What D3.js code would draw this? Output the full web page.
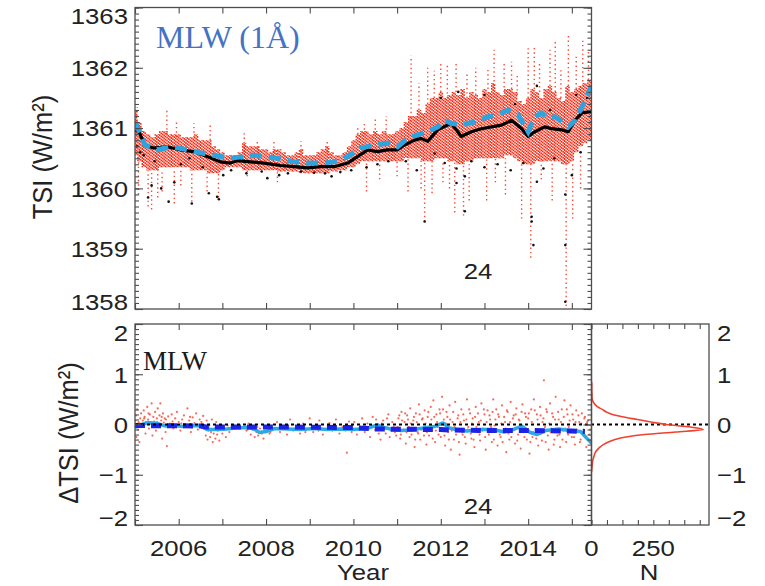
<!DOCTYPE html>
<html><head><meta charset="utf-8">
<script src="https://cdn.jsdelivr.net/npm/d3@7"></script>
<style>html,body{margin:0;padding:0;background:#fff}svg{display:block}</style>
</head><body><svg id="chart" width="765" height="586"></svg>
<script>
// ---------- data ----------
// Upper panel: dense cloud of individual TSI readings, per 0.1-year bin [year, low, high]
const tsiBand = [
  [2005.0,1360.55,1361.3],[2005.1,1360.45,1361.1],[2005.2,1360.35,1360.95],[2005.3,1360.3,1360.9],[2005.4,1360.3,1360.85],
  [2005.5,1360.3,1360.9],[2005.6,1360.35,1360.95],[2005.7,1360.35,1360.95],[2005.8,1360.35,1360.9],[2005.9,1360.35,1360.9],
  [2006.0,1360.35,1360.9],[2006.1,1360.35,1360.85],[2006.2,1360.35,1360.85],[2006.3,1360.3,1360.85],[2006.4,1360.3,1360.9],
  [2006.5,1360.3,1360.8],[2006.6,1360.3,1360.8],[2006.7,1360.25,1360.8],[2006.8,1360.25,1360.7],[2006.9,1360.25,1360.65],
  [2007.0,1360.3,1360.6],[2007.1,1360.35,1360.55],[2007.2,1360.35,1360.55],[2007.3,1360.35,1360.55],[2007.4,1360.35,1360.6],
  [2007.5,1360.3,1360.75],[2007.6,1360.3,1360.7],[2007.7,1360.3,1360.7],[2007.8,1360.3,1360.7],[2007.9,1360.3,1360.65],
  [2008.0,1360.3,1360.65],[2008.1,1360.3,1360.6],[2008.2,1360.3,1360.65],[2008.3,1360.28,1360.65],[2008.4,1360.28,1360.6],
  [2008.5,1360.28,1360.55],[2008.6,1360.28,1360.55],[2008.7,1360.28,1360.6],[2008.8,1360.25,1360.65],[2008.9,1360.25,1360.55],
  [2009.0,1360.25,1360.55],[2009.1,1360.25,1360.55],[2009.2,1360.25,1360.6],[2009.3,1360.25,1360.65],[2009.4,1360.25,1360.7],
  [2009.5,1360.28,1360.6],[2009.6,1360.28,1360.55],[2009.7,1360.3,1360.55],[2009.8,1360.3,1360.6],[2009.9,1360.35,1360.7],
  [2010.0,1360.35,1360.8],[2010.1,1360.4,1360.9],[2010.2,1360.45,1360.95],[2010.3,1360.45,1360.95],[2010.4,1360.45,1360.9],
  [2010.5,1360.45,1360.95],[2010.6,1360.45,1360.9],[2010.7,1360.45,1360.95],[2010.8,1360.45,1360.9],[2010.9,1360.45,1360.9],
  [2011.0,1360.45,1360.95],[2011.1,1360.45,1361.0],[2011.2,1360.5,1361.1],[2011.3,1360.5,1361.2],[2011.4,1360.5,1361.2],
  [2011.5,1360.5,1361.3],[2011.6,1360.45,1361.25],[2011.7,1360.45,1361.4],[2011.8,1360.45,1361.5],[2011.9,1360.5,1361.5],
  [2012.0,1360.5,1361.6],[2012.1,1360.5,1361.5],[2012.2,1360.45,1361.55],[2012.3,1360.45,1361.6],[2012.4,1360.4,1361.55],
  [2012.5,1360.4,1361.65],[2012.6,1360.45,1361.5],[2012.7,1360.45,1361.6],[2012.8,1360.5,1361.55],[2012.9,1360.5,1361.5],
  [2013.0,1360.5,1361.65],[2013.1,1360.5,1361.6],[2013.2,1360.5,1361.75],[2013.3,1360.5,1361.6],[2013.4,1360.5,1361.55],
  [2013.5,1360.55,1361.65],[2013.6,1360.55,1361.65],[2013.7,1360.5,1361.6],[2013.8,1360.45,1361.45],[2013.9,1360.4,1361.4],
  [2014.0,1360.4,1361.5],[2014.1,1360.4,1361.65],[2014.2,1360.45,1361.6],[2014.3,1360.45,1361.5],[2014.4,1360.45,1361.65],
  [2014.5,1360.45,1361.7],[2014.6,1360.45,1361.6],[2014.7,1360.45,1361.5],[2014.8,1360.4,1361.45],[2014.9,1360.4,1361.7],
  [2015.0,1360.45,1361.6],[2015.1,1360.6,1361.65],[2015.2,1360.7,1361.7],[2015.3,1360.75,1361.75],[2015.4,1360.8,1361.8]
];

// Isolated excursions of the readings beyond the dense cloud [year, low, high]
const tsiStreaks = [
  [2005.05,1360.9,1361.35],[2005.08,1359.9,1360.5],[2005.3,1359.7,1360.3],[2005.38,1359.65,1360.3],[2005.52,1359.85,1360.3],
  [2005.62,1359.95,1360.3],[2005.73,1360.9,1361.33],[2005.9,1359.75,1360.3],[2005.95,1360.85,1361.13],[2006.05,1360.05,1360.3],
  [2006.3,1359.78,1360.3],[2006.35,1360.85,1361.08],[2006.65,1359.95,1360.25],[2006.72,1360.8,1361.05],[2006.91,1359.85,1360.25],
  [2007.5,1360.6,1360.93],[2007.57,1360.2,1360.3],[2007.8,1360.6,1360.8],[2008.18,1360.6,1360.78],[2008.26,1360.1,1360.3],
  [2008.8,1360.55,1360.78],[2009.4,1360.6,1360.8],[2010.1,1360.9,1361.02],[2010.25,1360.9,1361.1],[2010.3,1359.95,1360.45],
  [2010.5,1360.9,1361.15],[2010.6,1360.15,1360.45],[2010.75,1360.9,1361.2],[2011.0,1360.2,1360.45],[2011.25,1359.95,1360.5],
  [2011.32,1361.1,1362.2],[2011.5,1361.3,1361.75],[2011.55,1360.0,1360.5],[2011.63,1359.45,1360.45],[2011.7,1361.4,1362.0],
  [2011.8,1359.92,1360.45],[2011.85,1361.5,1361.95],[2012.0,1361.6,1362.1],[2012.05,1360.1,1360.45],[2012.15,1361.5,1362.05],
  [2012.2,1360.0,1360.45],[2012.32,1359.6,1360.45],[2012.35,1361.6,1362.1],[2012.52,1359.55,1360.4],[2012.6,1361.5,1361.9],
  [2012.65,1359.8,1360.4],[2012.8,1361.55,1362.0],[2013.05,1359.8,1360.5],[2013.08,1361.65,1362.0],[2013.22,1361.7,1362.3],
  [2013.25,1360.1,1360.5],[2013.45,1361.6,1362.1],[2013.48,1359.9,1360.5],[2013.62,1361.65,1362.1],[2013.75,1361.55,1361.9],
  [2013.85,1359.5,1360.45],[2014.0,1361.5,1362.37],[2014.06,1358.85,1360.4],[2014.14,1361.65,1362.35],[2014.26,1361.6,1362.1],
  [2014.3,1360.15,1360.45],[2014.5,1361.7,1362.3],[2014.55,1359.8,1360.45],[2014.62,1361.6,1362.47],[2014.75,1361.5,1362.0],
  [2014.87,1358.05,1360.4],[2014.92,1361.7,1362.55],[2015.02,1359.5,1360.45],[2015.1,1361.65,1362.2],[2015.2,1360.0,1360.6],
  [2015.25,1361.7,1362.45],[2015.38,1361.8,1362.3]
];

// Readings of the second series, shown in black [year, TSI]
const tsiBlackDots = [
  [2005.02,1360.95],[2005.05,1360.7],[2005.12,1360.6],[2005.2,1360.55],[2005.3,1359.85],[2005.38,1360.05],[2005.45,1360.45],
  [2005.6,1360.0],[2005.77,1359.78],[2005.9,1360.1],[2006.05,1360.4],[2006.25,1360.5],[2006.3,1359.75],[2006.55,1360.35],
  [2006.69,1359.92],[2006.88,1359.86],[2006.92,1359.82],[2007.02,1360.22],[2007.2,1360.3],[2007.55,1360.25],[2007.9,1360.28],
  [2008.03,1360.17],[2008.3,1360.22],[2008.5,1360.25],[2008.8,1360.28],[2009.1,1360.26],[2009.35,1360.25],[2009.5,1360.2],
  [2009.7,1360.27],[2009.95,1360.3],[2010.3,1360.35],[2010.55,1360.4],[2010.8,1360.45],[2011.2,1360.45],[2011.45,1360.3],
  [2011.63,1359.45],[2011.86,1360.58],[2012.0,1361.5],[2012.09,1360.42],[2012.36,1360.33],[2012.36,1360.09],[2012.4,1361.6],
  [2012.55,1360.2],[2012.55,1359.62],[2012.7,1360.45],[2013.0,1360.35],[2013.0,1361.55],[2013.3,1360.4],[2013.6,1360.3],
  [2013.7,1361.4],[2013.89,1360.42],[2014.08,1359.53],[2014.08,1359.45],[2014.12,1359.06],[2014.2,1360.11],[2014.2,1361.7],
  [2014.35,1360.33],[2014.5,1361.3],[2014.6,1360.5],[2014.85,1359.9],[2014.85,1359.06],[2014.85,1358.12],[2015.0,1360.22],
  [2015.1,1361.55],[2015.2,1360.6],[2015.35,1361.5]
];

// Smoothed series in the upper panel [year, TSI]
const tsiBlackLine = [
  [2005.0,1361.11],[2005.12,1360.89],[2005.23,1360.72],[2005.42,1360.67],[2005.73,1360.69],[2006.03,1360.64],[2006.34,1360.61],
  [2006.65,1360.53],[2006.95,1360.44],[2007.18,1360.42],[2007.34,1360.46],[2007.64,1360.44],[2007.95,1360.42],[2008.33,1360.38],
  [2008.64,1360.36],[2008.95,1360.34],[2009.25,1360.36],[2009.56,1360.36],[2009.87,1360.42],[2010.1,1360.53],[2010.33,1360.64],
  [2010.55,1360.61],[2010.78,1360.64],[2011.01,1360.64],[2011.17,1360.72],[2011.4,1360.8],[2011.55,1360.83],[2011.7,1360.78],
  [2011.82,1360.88],[2011.93,1360.97],[2012.01,1361.0],[2012.24,1361.08],[2012.47,1360.86],[2012.7,1360.94],[2012.93,1360.99],
  [2013.16,1361.02],[2013.39,1361.05],[2013.62,1361.13],[2013.85,1360.99],[2014.0,1360.86],[2014.15,1360.94],[2014.38,1361.02],
  [2014.54,1360.99],[2014.77,1360.97],[2014.92,1360.94],[2015.07,1361.13],[2015.23,1361.25],[2015.38,1361.27],[2015.45,1361.27]
];
const tsiCyanLine = [
  [2005.0,1361.11],[2005.23,1360.72],[2005.5,1360.64],[2005.85,1360.69],[2006.19,1360.64],[2006.5,1360.59],[2006.8,1360.55],
  [2007.18,1360.5],[2007.72,1360.55],[2008.26,1360.5],[2008.64,1360.44],[2008.95,1360.42],[2009.25,1360.42],[2009.56,1360.44],
  [2009.87,1360.53],[2010.17,1360.67],[2010.48,1360.72],[2010.78,1360.75],[2011.01,1360.69],[2011.24,1360.83],[2011.55,1360.91],
  [2011.78,1360.97],[2011.93,1361.02],[2012.09,1361.13],[2012.24,1361.08],[2012.47,1361.05],[2012.62,1361.08],[2012.85,1361.11],
  [2013.08,1361.19],[2013.31,1361.22],[2013.54,1361.3],[2013.77,1361.22],[2014.0,1360.94],[2014.15,1361.19],[2014.31,1361.25],
  [2014.46,1361.16],[2014.61,1361.19],[2014.77,1361.11],[2014.92,1361.02],[2015.07,1361.13],[2015.23,1361.35],[2015.38,1361.58],
  [2015.45,1361.71]
];

// Lower panel: individual differences [year, ΔTSI]
const dtsiDots = [
  [2005.02,0.18],[2005.03,-0.25],[2005.05,0.3],[2005.07,-0.1],[2005.08,0.05],[2005.1,-0.35],[2005.12,0.12],[2005.14,0.22],
  [2005.16,-0.05],[2005.18,0.08],[2005.2,0.28],[2005.22,0.15],[2005.24,-0.18],[2005.26,0.05],[2005.28,0.35],[2005.3,0.1],
  [2005.32,-0.08],[2005.34,0.2],[2005.36,0.02],[2005.38,0.42],[2005.4,-0.22],[2005.42,0.15],[2005.44,0.06],[2005.46,0.25],
  [2005.48,-0.12],[2005.5,0.12],[2005.52,0.32],[2005.54,-0.02],[2005.56,0.18],[2005.58,0.42],[2005.6,0.08],[2005.62,-0.28],
  [2005.64,0.22],[2005.66,0.04],[2005.68,0.12],[2005.7,-0.15],[2005.73,-0.43],[2005.76,0.16],[2005.8,0.02],[2005.84,0.2],
  [2005.88,-0.08],[2005.92,0.12],[2005.96,0.25],[2006.0,0.05],[2006.04,-0.12],[2006.08,0.1],[2006.12,0.18],[2006.16,-0.05],
  [2006.2,0.32],[2006.24,0.08],[2006.28,-0.15],[2006.32,0.14],[2006.36,0.03],[2006.4,0.22],[2006.44,-0.1],[2006.48,0.1],
  [2006.52,0.05],[2006.56,0.17],[2006.6,-0.06],[2006.62,-0.22],[2006.64,0.08],[2006.66,-0.3],[2006.68,-0.12],[2006.7,-0.02],
  [2006.72,-0.25],[2006.74,-0.15],[2006.76,0.1],[2006.78,-0.35],[2006.8,-0.18],[2006.82,-0.08],[2006.84,-0.28],[2006.86,0.05],
  [2006.88,-0.2],[2006.9,-0.12],[2006.93,-0.32],[2006.96,-0.05],[2007.0,-0.18],[2007.04,-0.1],[2007.08,-0.25],[2007.12,-0.02],
  [2007.16,-0.15],[2007.5,-0.05],[2007.55,-0.12],[2007.6,0.02],[2007.65,-0.2],[2007.7,-0.1],[2007.74,-0.25],[2007.78,-0.15],
  [2007.82,-0.22],[2007.86,-0.08],[2007.9,-0.18],[2007.94,-0.28],[2007.98,-0.12],[2008.02,-0.05],[2008.08,-0.18],[2008.14,-0.1],
  [2008.25,0.05],[2008.32,-0.15],[2008.4,-0.08],[2008.48,-0.2],[2008.55,0.1],[2008.62,-0.12],[2008.7,-0.05],[2008.78,-0.18],
  [2008.85,0.02],[2008.92,-0.1],[2009.0,0.12],[2009.08,-0.15],[2009.15,-0.05],[2009.22,0.08],[2009.3,-0.2],[2009.38,-0.1],
  [2009.45,0.03],[2009.52,-0.12],[2009.6,0.1],[2009.68,-0.18],[2009.75,-0.05],[2009.82,-0.12],[2009.85,-0.56],[2009.9,0.06],
  [2009.96,-0.15],[2010.02,0.05],[2010.08,-0.2],[2010.14,-0.08],[2010.2,0.12],[2010.26,-0.15],[2010.32,0.02],[2010.38,-0.25],
  [2010.44,0.15],[2010.5,-0.1],[2010.56,-0.02],[2010.62,-0.3],[2010.68,0.08],[2010.74,-0.18],[2010.8,0.2],[2010.86,-0.12],
  [2010.92,-0.05],[2010.98,-0.22],[2011.03,0.12],[2011.07,-0.28],[2011.1,0.25],[2011.13,-0.12],[2011.17,0.05],[2011.2,-0.38],
  [2011.23,0.18],[2011.27,-0.05],[2011.3,0.32],[2011.33,-0.2],[2011.37,0.08],[2011.4,-0.45],[2011.43,0.22],[2011.47,-0.15],
  [2011.5,0.4],[2011.53,-0.3],[2011.57,0.1],[2011.6,-0.08],[2011.63,0.28],[2011.67,-0.4],[2011.7,0.15],[2011.73,-0.22],
  [2011.77,0.35],[2011.8,-0.12],[2011.83,0.48],[2011.87,-0.35],[2011.9,0.2],[2011.93,-0.05],[2011.97,0.3],[2012.0,-0.25],
  [2012.03,0.55],[2012.07,0.1],[2012.1,-0.42],[2012.13,0.25],[2012.17,-0.15],[2012.2,0.38],[2012.23,-0.5],[2012.27,0.05],
  [2012.3,-0.3],[2012.33,0.45],[2012.37,-0.1],[2012.4,0.18],[2012.43,-0.6],[2012.47,0.3],[2012.5,-0.2],[2012.53,0.08],
  [2012.57,-0.38],[2012.6,0.5],[2012.63,-0.05],[2012.67,0.22],[2012.7,-0.28],[2012.73,0.12],[2012.77,-0.45],[2012.8,0.35],
  [2012.83,-0.15],[2012.87,0.05],[2012.9,-0.32],[2012.93,0.42],[2012.97,-0.08],[2013.0,0.2],[2013.03,-0.5],[2013.07,0.28],
  [2013.1,-0.2],[2013.13,0.1],[2013.17,-0.35],[2013.2,0.5],[2013.23,-0.02],[2013.27,0.3],[2013.3,-0.42],[2013.33,0.15],
  [2013.37,-0.25],[2013.4,0.38],[2013.43,-0.12],[2013.47,0.05],[2013.5,-0.55],[2013.53,0.25],[2013.57,-0.3],[2013.6,0.45],
  [2013.63,-0.1],[2013.67,0.18],[2013.7,-0.38],[2013.73,0.32],[2013.77,-0.2],[2013.8,0.08],[2013.83,-0.48],[2013.87,0.4],
  [2013.9,-0.15],[2013.93,0.22],[2013.97,-0.3],[2014.0,0.12],[2014.03,-0.58],[2014.07,0.3],[2014.1,-0.25],[2014.13,0.5],
  [2014.17,-0.1],[2014.2,0.2],[2014.23,-0.42],[2014.27,0.35],[2014.3,-0.18],[2014.33,0.05],[2014.36,0.88],[2014.4,-0.35],
  [2014.43,0.25],[2014.47,-0.5],[2014.5,0.42],[2014.53,-0.08],[2014.57,0.15],[2014.6,-0.3],[2014.63,0.55],[2014.67,-0.22],
  [2014.7,0.1],[2014.73,-0.45],[2014.77,0.3],[2014.8,-0.12],[2014.83,0.48],[2014.87,-0.35],[2014.9,0.2],[2014.93,-0.05],
  [2014.97,0.38],[2015.0,-0.25],[2015.03,0.1],[2015.07,-0.4],[2015.1,0.28],[2015.13,-0.15],[2015.17,0.05],[2015.2,-0.3],
  [2015.23,0.22],[2015.27,-0.1],[2015.3,0.15],[2015.33,-0.45],[2015.37,0.08],[2015.4,-0.2],
  // readings close to the mean
  [2005.01,0.08],[2005.11,0.02],[2005.21,0.12],[2005.31,0.22],[2005.41,0.0],[2005.51,0.05],[2005.61,0.15],[2005.71,0.1],
  [2005.86,0.06],[2006.06,0.02],[2006.26,0.15],[2006.46,0.0],[2006.7,-0.08],[2006.87,-0.1],[2007.03,-0.05],[2007.58,-0.1],
  [2007.8,-0.05],[2008.1,-0.15],[2008.45,-0.05],[2008.9,-0.15],[2009.2,-0.12],[2009.55,-0.02],[2009.9,-0.1],
  [2010.52,0.1],[2010.58,-0.18],[2010.65,0.02],[2010.71,-0.08],[2010.77,0.12],[2010.83,-0.25],[2010.89,0.05],[2010.95,-0.15],
  [2011.01,-0.05],[2011.05,0.18],[2011.085,-0.2],[2011.115,0.08],[2011.15,-0.1],[2011.185,0.22],[2011.215,-0.15],[2011.25,0.1],
  [2011.285,-0.25],[2011.315,0.02],[2011.35,-0.12],[2011.385,0.15],[2011.415,-0.3],[2011.45,0.05],[2011.485,-0.18],[2011.515,0.2],
  [2011.55,-0.1],[2011.585,0.12],[2011.615,-0.22],[2011.65,0.02],[2011.685,-0.15],[2011.715,0.25],[2011.75,-0.05],[2011.785,0.1],
  [2011.815,-0.28],[2011.85,0.15],[2011.885,-0.12],[2011.915,0.05],[2011.95,-0.2],[2011.985,0.22],
  [2012.015,-0.1],[2012.05,0.3],[2012.085,-0.22],[2012.115,0.02],[2012.15,0.15],[2012.185,-0.3],[2012.215,0.1],[2012.25,-0.12],
  [2012.285,0.25],[2012.315,-0.05],[2012.35,-0.2],[2012.385,0.12],[2012.415,-0.35],[2012.45,0.05],[2012.485,-0.15],[2012.515,0.2],
  [2012.55,-0.25],[2012.585,0.1],[2012.615,-0.1],[2012.65,0.3],[2012.685,-0.18],[2012.715,0.02],[2012.75,-0.3],[2012.785,0.15],
  [2012.815,-0.05],[2012.85,0.22],[2012.885,-0.2],[2012.915,0.08],[2012.95,-0.12],[2012.985,0.3],
  [2013.015,-0.25],[2013.05,0.05],[2013.085,-0.15],[2013.115,0.18],[2013.15,-0.05],[2013.185,0.25],[2013.215,-0.3],[2013.25,0.1],
  [2013.285,-0.12],[2013.315,0.2],[2013.35,-0.2],[2013.385,0.02],[2013.415,-0.35],[2013.45,0.15],[2013.485,-0.08],[2013.515,0.28],
  [2013.55,-0.18],[2013.585,0.05],[2013.615,-0.25],[2013.65,0.12],[2013.685,-0.1],[2013.715,0.2],[2013.75,-0.32],[2013.785,0.1],
  [2013.815,-0.15],[2013.85,0.25],[2013.885,-0.05],[2013.915,-0.25],[2013.95,0.15],[2013.985,-0.12],
  [2014.015,0.22],[2014.05,-0.35],[2014.085,0.05],[2014.115,-0.15],[2014.15,0.28],[2014.185,-0.28],[2014.215,0.1],[2014.25,-0.1],
  [2014.285,0.18],[2014.315,-0.32],[2014.35,0.12],[2014.385,-0.05],[2014.415,0.3],[2014.45,-0.22],[2014.485,0.02],[2014.515,-0.15],
  [2014.55,0.22],[2014.585,-0.4],[2014.615,0.1],[2014.65,-0.1],[2014.685,0.25],[2014.715,-0.2],[2014.75,0.05],[2014.785,-0.3],
  [2014.815,0.15],[2014.85,-0.08],[2014.885,0.3],[2014.915,-0.2],[2014.95,0.08],[2014.985,-0.12],
  [2015.015,0.2],[2015.05,-0.25],[2015.085,0.05],[2015.115,-0.1],[2015.15,0.18],[2015.185,-0.35],[2015.215,0.02],[2015.25,-0.15],
  [2015.285,0.12],[2015.315,-0.25],[2015.35,0.05],[2015.385,-0.3],[2015.42,-0.1]
];

// Smoothed differences [year, ΔTSI]
const dtsiBlueLine = [
  [2005.0,-0.02],[2006.5,-0.03],[2006.62,-0.05],[2008.5,-0.05],[2010.0,-0.06],[2010.5,-0.09],[2012.0,-0.1],
  [2012.2,-0.11],[2013.0,-0.12],[2014.0,-0.12],[2015.0,-0.13],[2015.3,-0.14]
];
const dtsiCyanLine = [
  [2005.0,-0.06],[2005.15,0.0],[2005.3,0.04],[2005.5,0.02],[2005.7,-0.03],[2005.9,-0.02],[2006.1,-0.04],[2006.3,-0.02],
  [2006.5,-0.03],[2006.65,-0.1],[2006.9,-0.1],[2007.1,-0.09],[2007.3,-0.07],[2007.6,-0.06],[2007.75,-0.1],[2007.85,-0.16],
  [2008.0,-0.14],[2008.2,-0.08],[2008.5,-0.09],[2008.8,-0.1],[2009.1,-0.08],[2009.4,-0.1],[2009.7,-0.09],[2010.0,-0.1],
  [2010.3,-0.08],[2010.55,-0.01],[2010.7,-0.06],[2010.9,-0.1],[2011.1,-0.12],[2011.3,-0.11],[2011.6,-0.07],[2011.85,-0.04],
  [2012.05,0.03],[2012.2,-0.07],[2012.4,-0.11],[2012.6,-0.13],[2012.9,-0.1],[2013.2,-0.1],[2013.45,-0.15],[2013.65,-0.1],
  [2013.85,-0.03],[2014.05,-0.16],[2014.2,-0.2],[2014.4,-0.12],[2014.7,-0.09],[2014.95,-0.12],[2015.2,-0.14],[2015.35,-0.28],
  [2015.45,-0.37]
];

// Distribution of the differences
const histDelta = [-0.95,-0.9,-0.85,-0.8,-0.75,-0.7,-0.65,-0.6,-0.55,-0.5,-0.45,-0.4,-0.35,-0.3,-0.25,-0.2,-0.15,-0.1,
  -0.05,0,0.05,0.1,0.15,0.2,0.25,0.3,0.35,0.4,0.45,0.5,0.55,0.6,0.65,0.7,0.75,0.8,0.85];
const histCount = [0,1,2,3,4,6,9,12,16,24,34,48,68,95,140,215,340,452,400,302,240,185,130,85,60,44,25,14,7,3,2,2,1,1,1,1,0];

// Axis ticks and labels
const yearTicks = [2005,2006,2007,2008,2009,2010,2011,2012,2013,2014,2015];
const yearLabels = [2006,2008,2010,2012,2014];
const tsiLabels = [1358,1359,1360,1361,1362,1363];
const dtsiLabels = [-2,-1,0,1,2];
const countTicks = [0,62.5,125,187.5,250,312.5,375,437.5];
const countLabels = [0,250];

// ---------- layout ----------
const svg = d3.select('#chart');
const x = d3.scaleLinear().domain([2005, 2015.45]).range([135, 591.5]);
const yTop = d3.scaleLinear().domain([1358, 1363]).range([309, 7.5]);
const yBot = d3.scaleLinear().domain([-2, 2]).range([525, 324]);
const xHist = d3.scaleLinear().domain([0, 475]).range([591.5, 709]);

const FRAME = '#4d4d4d';
const RED = '#f52a14';
const SANS = "'Liberation Sans', Arial, sans-serif";
const SERIF = "'Liberation Serif', 'Times New Roman', serif";

const defs = svg.append('defs');
function clip(id, x0, y0, x1, y1) {
  defs.append('clipPath').attr('id', id).append('rect')
    .attr('x', x0).attr('y', y0).attr('width', x1 - x0).attr('height', y1 - y0);
}
clip('clipTop', 135, 7.5, 591.5, 309);
clip('clipBot', 135, 324, 591.5, 525);
clip('clipHist', 591.5, 324, 709, 525);

// ---------- upper panel ----------
const gTop = svg.append('g').attr('clip-path', 'url(#clipTop)');
// each bin is rendered as three dotted columns so the readings read as a speckled cloud
const cols = [-1.45, 0, 1.45];
gTop.append('g').selectAll('line')
  .data(tsiBand.flatMap((d, i) => cols.map((o, j) => ({ d, o, k: i * 3 + j }))))
  .join('line')
  .attr('x1', p => x(p.d[0]) + p.o).attr('x2', p => x(p.d[0]) + p.o)
  .attr('y1', p => yTop(p.d[1])).attr('y2', p => yTop(p.d[2]))
  .attr('stroke', RED).attr('stroke-width', 1.5)
  .attr('stroke-dasharray', '1.8,1.2').attr('stroke-dashoffset', p => (p.k * 1.1) % 3);
gTop.append('g').selectAll('line').data(tsiStreaks).join('line')
  .attr('x1', d => x(d[0])).attr('x2', d => x(d[0]))
  .attr('y1', d => yTop(d[1])).attr('y2', d => yTop(d[2]))
  .attr('stroke', RED).attr('stroke-width', 1.4).attr('stroke-opacity', 0.85)
  .attr('stroke-dasharray', '1.4,3.0');
gTop.append('g').selectAll('circle').data(tsiBlackDots).join('circle')
  .attr('cx', d => x(d[0])).attr('cy', d => yTop(d[1])).attr('r', 1.3).attr('fill', '#111');
gTop.append('path').datum(tsiBlackLine)
  .attr('d', d3.line().x(d => x(d[0])).y(d => yTop(d[1])))
  .attr('fill', 'none').attr('stroke', '#000').attr('stroke-width', 3.2).attr('stroke-linejoin', 'round');
gTop.append('path').datum(tsiCyanLine)
  .attr('d', d3.line().x(d => x(d[0])).y(d => yTop(d[1])))
  .attr('fill', 'none').attr('stroke', '#2ea4de').attr('stroke-width', 5).attr('stroke-dasharray', '12,7');

// ---------- lower panel ----------
const gBot = svg.append('g').attr('clip-path', 'url(#clipBot)');
gBot.append('g').selectAll('circle').data(dtsiDots).join('circle')
  .attr('cx', d => x(d[0])).attr('cy', d => yBot(d[1])).attr('r', 1.1)
  .attr('fill', '#f5503e').attr('fill-opacity', 0.85);
svg.append('line').attr('x1', 135).attr('x2', 709).attr('y1', yBot(0)).attr('y2', yBot(0))
  .attr('stroke', '#000').attr('stroke-width', 1.8).attr('stroke-dasharray', '3,3');
gBot.append('path').datum(dtsiCyanLine)
  .attr('d', d3.line().x(d => x(d[0])).y(d => yBot(d[1])))
  .attr('fill', 'none').attr('stroke', '#2fa9e2').attr('stroke-width', 3.5).attr('stroke-linejoin', 'round');
gBot.append('path').datum(dtsiBlueLine)
  .attr('d', d3.line().x(d => x(d[0])).y(d => yBot(d[1])))
  .attr('fill', 'none').attr('stroke', '#1c22e6').attr('stroke-width', 5).attr('stroke-dasharray', '10,6');

// ---------- histogram ----------
const gHist = svg.append('g').attr('clip-path', 'url(#clipHist)');
gHist.append('path').datum(d3.zip(histDelta, histCount))
  .attr('d', d3.line().curve(d3.curveMonotoneY).x(d => xHist(d[1])).y(d => yBot(d[0])))
  .attr('fill', 'none').attr('stroke', '#f0402e').attr('stroke-width', 1.6);

// ---------- frames and ticks ----------
function frame(x0, y0, x1, y1) {
  svg.append('rect').attr('x', x0).attr('y', y0).attr('width', x1 - x0).attr('height', y1 - y0)
    .attr('fill', 'none').attr('stroke', FRAME).attr('stroke-width', 1.3);
}
function ticks(axisFn, scale, values, size, tx, ty) {
  const g = svg.append('g').attr('transform', `translate(${tx},${ty})`)
    .call(axisFn(scale).tickValues(values).tickSize(-size).tickSizeOuter(0).tickFormat(''));
  g.select('.domain').remove();
  g.selectAll('line').attr('stroke', FRAME).attr('stroke-width', 1.1);
}
const minorTsi = d3.range(0, 51).map(i => 1358 + i * 0.1);
const minorDtsi = d3.range(0, 41).map(i => -2 + i * 0.1);

ticks(d3.axisLeft, yTop, minorTsi, 4, 135, 0);
ticks(d3.axisLeft, yTop, tsiLabels, 8, 135, 0);
ticks(d3.axisRight, yTop, minorTsi, 4, 591.5, 0);
ticks(d3.axisRight, yTop, tsiLabels, 8, 591.5, 0);
ticks(d3.axisTop, x, yearTicks, 6, 0, 7.5);
ticks(d3.axisBottom, x, yearTicks, 6, 0, 309);

ticks(d3.axisLeft, yBot, minorDtsi, 4, 135, 0);
ticks(d3.axisLeft, yBot, dtsiLabels, 8, 135, 0);
ticks(d3.axisRight, yBot, minorDtsi, 4, 591.5, 0);
ticks(d3.axisRight, yBot, dtsiLabels, 8, 591.5, 0);
ticks(d3.axisTop, x, yearTicks, 6, 0, 324);
ticks(d3.axisBottom, x, yearTicks, 6, 0, 525);
ticks(d3.axisTop, xHist, countTicks, 5, 0, 324);
ticks(d3.axisBottom, xHist, countTicks, 5, 0, 525);

frame(135, 7.5, 591.5, 309);
frame(135, 324, 591.5, 525);
frame(591.5, 324, 709, 525);

// ---------- text ----------
function txt(px, py, s, o = {}) {
  const g = svg.append('g').attr('transform', `translate(${px},${py})` + (o.rotate ? ` rotate(${o.rotate})` : ''));
  const t = g.append('text')
    .attr('transform', o.noStretch ? null : (o.rotate ? 'scale(1,1.12)' : 'scale(1.12,1)'))
    .attr('text-anchor', o.anchor || 'middle')
    .attr('font-family', o.family || SANS)
    .attr('font-size', o.size || 23)
    .attr('fill', o.fill || '#222')
    .text(s);
  if (o.dy) t.attr('dy', o.dy);
  return t;
}
const fmt = v => (v < 0 ? '\u2212' + Math.abs(v) : String(v));
const clampY = (v, lo, hi) => Math.max(lo, Math.min(hi, v));

tsiLabels.forEach(v => txt(128, clampY(yTop(v), 16, 301.5), fmt(v), { anchor: 'end', dy: '0.36em' }));
dtsiLabels.forEach(v => txt(128, clampY(yBot(v), 332.5, 517.5), fmt(v), { anchor: 'end', dy: '0.36em' }));
dtsiLabels.forEach(v => txt(717, clampY(yBot(v), 332.5, 517.5), fmt(v), { anchor: 'start', dy: '0.36em' }));
yearLabels.forEach(v => txt(x(v), 556, String(v)));
countLabels.forEach(v => txt(xHist(v), 556, String(v)));

txt(363, 580, 'Year');
txt(649, 580, 'N');
txt(478, 279, '24');
txt(478, 514, '24');

txt(52, 157, 'TSI (W/m\u00B2)', { rotate: -90, size: 25.5 });
txt(78, 433, '\u0394TSI (W/m\u00B2)', { rotate: -90, size: 25.5 });

txt(156, 48, 'MLW (1\u00C5)', { anchor: 'start', family: SERIF, size: 32, fill: '#4472c4', noStretch: true });
txt(143, 370, 'MLW', { anchor: 'start', family: SERIF, size: 27, fill: '#1a1a1a', noStretch: true });
</script></body></html>
